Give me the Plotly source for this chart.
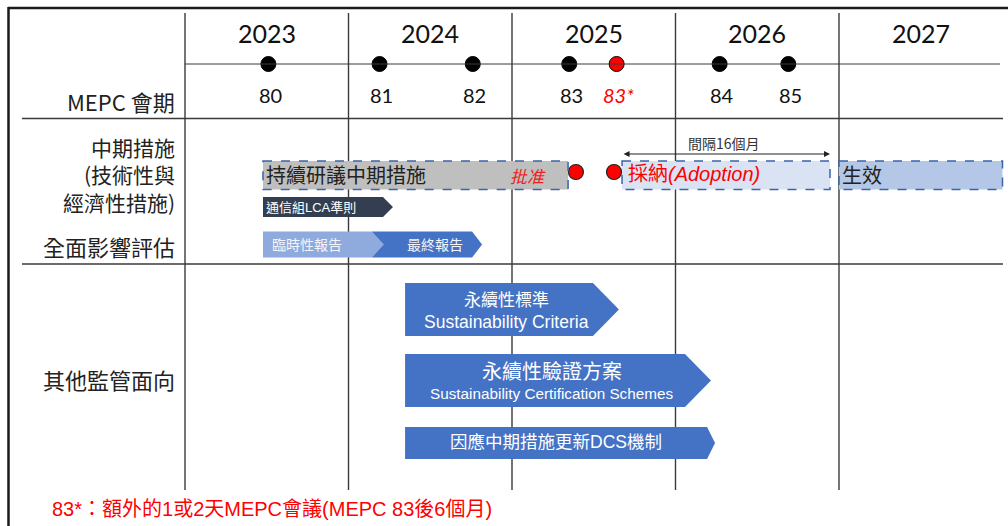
import plotly.graph_objects as go

# ---------------- data ----------------
year_labels = ["2023", "2024", "2025", "2026", "2027"]
year_starts = [2023, 2024, 2025, 2026, 2027]

session_labels = ["80", "81", "82", "83", "83*", "84", "85"]
session_times = [2023.51, 2024.19, 2024.76, 2025.35, 2025.64, 2026.27, 2026.69]
session_extra = [False, False, False, False, True, False, False]

# mid-term measures boxes: (label, start, end)
box_labels = ["持續研議中期措施", "採納(Adoption)", "生效"]
box_starts = [2023.477, 2025.673, 2027.0]
box_ends = [2025.343, 2026.945, 2028.0]
approve_label = "批准"
approval_points = [2025.391, 2025.624]
interval_label = "間隔16個月"

# chevrons (label, start, end of tip)
lca_label = "通信組LCA準則"
lca_span = [2023.477, 2024.272]
impact_labels = ["臨時性報告", "最終報告"]
impact_starts = [2023.477, 2024.144]
impact_ends = [2024.217, 2024.817]

other_labels_cn = ["永續性標準", "永續性驗證方案", "因應中期措施更新DCS機制"]
other_labels_en = ["Sustainability Criteria", "Sustainability Certification Schemes", ""]
other_starts = [2024.346, 2024.346, 2024.346]
other_ends = [2025.654, 2026.217, 2026.242]

row_labels = ["MEPC 會期", "中期措施<br>(技術性與<br>經濟性措施)", "全面影響評估", "其他監管面向"]
footnote = "83*：額外的1或2天MEPC會議(MEPC 83後6個月)"

# ---------------- layout helpers ----------------
W, H = 1008, 526
PX0, PPY = 185.0, 163.5          # pixel of 2023 and pixels per year
XR = [2023 - PX0 / PPY, 2023 + (W - PX0) / PPY]
def px(p):  # pixel width -> years (offsets only)
    return p / PPY

CJK = "Noto Sans CJK TC, Noto Sans, sans-serif"
LAT = "Lato, Noto Sans CJK TC, sans-serif"
ARIAL = "Liberation Sans, Noto Sans CJK TC, sans-serif"
GRID = "#3a3a3a"
BLUE = "#4472C4"
DASH = "#3D63A8"

fig = go.Figure()
shapes = []
ann = []

# frame
shapes.append(dict(type="line", xref="paper", yref="y", x0=8 / W, x1=1.0, y0=8, y1=8,
                   line=dict(color="#1a1a1a", width=2.5)))
shapes.append(dict(type="line", xref="paper", yref="y", x0=8.5 / W, x1=8.5 / W, y0=7, y1=H,
                   line=dict(color="#1a1a1a", width=2.5)))
# section lines
for yy in [118.5, 264]:
    shapes.append(dict(type="line", xref="paper", yref="y", x0=22 / W, x1=1003 / W, y0=yy, y1=yy,
                       line=dict(color=GRID, width=1.5)))
# timeline axis
shapes.append(dict(type="line", xref="x", yref="y", x0=year_starts[0], x1=XR[0] + 1000 / PPY,
                   y0=64, y1=64, line=dict(color=GRID, width=1)))
# year grid lines
for ys in year_starts:
    shapes.append(dict(type="line", xref="x", yref="y", x0=ys, x1=ys, y0=13, y1=490,
                       line=dict(color=GRID, width=1.4), layer="below"))
# year labels
for lab, ys in zip(year_labels, year_starts):
    ann.append(dict(x=ys + 0.5, y=33, text=lab, showarrow=False,
                    font=dict(family=LAT, size=25, color="#111")))

# session dots
fig.add_trace(go.Scatter(
    x=session_times, y=[64] * len(session_times), mode="markers",
    marker=dict(size=15, color=["#FF0000" if e else "#000" for e in session_extra],
                line=dict(color="#000", width=1)),
    hoverinfo="skip", showlegend=False))
for lab, t, e in zip(session_labels, session_times, session_extra):
    ann.append(dict(x=t + px(2), y=95, text=("<i>%s</i>" % lab) if e else lab, showarrow=False,
                    font=dict(family=LAT, size=20, color="#FF0000" if e else "#111")))

# row labels (right aligned)
row_y = [101, 174, 246, 379]
row_size = [22, 21, 22, 22]
for lab, yy, fs in zip(row_labels, row_y, row_size):
    ann.append(dict(xref="paper", x=177 / W, y=yy, text=lab, showarrow=False, xanchor="right",
                    align="right", font=dict(family=CJK, size=fs, color="#222")))

# dashed boxes
box_fill = ["#BFBFBF", "#DAE3F3", "#B4C7E7"]
for s, e, f in zip(box_starts, box_ends, box_fill):
    shapes.append(dict(type="rect", xref="x", yref="y", x0=s, x1=e, y0=161, y1=189.5,
                       fillcolor=f, line=dict(color=DASH, width=1.5, dash="dash")))
ann.append(dict(x=box_starts[0] + px(1), y=174, text=box_labels[0], showarrow=False, xanchor="left",
                font=dict(family=CJK, size=20, color="#222")))
ann.append(dict(x=box_ends[0] - px(40), y=175, text="<i>%s</i>" % approve_label, showarrow=False,
                font=dict(family=CJK, size=17, color="#F02020")))
ann.append(dict(x=box_starts[1] + px(4), y=174,
                text="採納<i>(Adoption)</i>", showarrow=False, xanchor="left",
                font=dict(family=ARIAL, size=20, color="#FF0000")))
ann.append(dict(x=box_starts[2] + px(1), y=174, text=box_labels[2], showarrow=False, xanchor="left",
                font=dict(family=CJK, size=20, color="#222")))
# approval red circles
fig.add_trace(go.Scatter(
    x=approval_points, y=[172, 172], mode="markers",
    marker=dict(size=15, color="#FF0000", line=dict(color="#222", width=1.2)),
    hoverinfo="skip", showlegend=False))
# interval arrow
ann.append(dict(x=box_ends[1], y=154, ax=box_starts[1], ay=154, axref="x", ayref="y",
                xref="x", yref="y", text="", showarrow=True, arrowhead=2, arrowside="end+start",
                arrowsize=1, arrowwidth=1.2, arrowcolor="#222"))
ann.append(dict(x=(box_starts[1] + box_ends[1]) / 2 - px(2), y=143, text=interval_label, showarrow=False,
                font=dict(family=CJK, size=14, color="#333")))


def chevron(s, e, y0, y1, depth, color, notch=0.0):
    ym = (y0 + y1) / 2
    xs = [s, e - depth, e, e - depth, s, s + notch, s]
    ys = [y0, y0, ym, y1, y1, ym, y0]
    fig.add_trace(go.Scatter(x=xs, y=ys, mode="lines", fill="toself", fillcolor=color,
                             line=dict(color=color, width=0), hoverinfo="skip", showlegend=False))


# LCA chevron
chevron(lca_span[0], lca_span[1], 197, 217, px(10), "#333F50")
ann.append(dict(x=lca_span[0] + px(1), y=207, text=lca_label, showarrow=False, xanchor="left",
                font=dict(family=ARIAL, size=13, color="#fff")))
# impact assessment chevrons (dark first, light on top)
chevron(impact_starts[1], impact_ends[1], 231.5, 257.5, px(10), BLUE)
chevron(impact_starts[0], impact_ends[0], 231.5, 257.5, px(12), "#8FAADC")
ann.append(dict(x=impact_starts[0] + px(44), y=245, text=impact_labels[0], showarrow=False,
                font=dict(family=ARIAL, size=14, color="#F2F5FB")))
ann.append(dict(x=impact_starts[1] + px(63), y=245, text=impact_labels[1], showarrow=False,
                font=dict(family=ARIAL, size=14, color="#F2F5FB")))

# other regulatory chevrons
other_rows = [(283, 336), (354, 407), (427, 459)]
other_depth = [26, 26, 8]
for s, e, (y0, y1), d in zip(other_starts, other_ends, other_rows, other_depth):
    chevron(s, e, y0, y1, px(d), BLUE)
ann.append(dict(x=other_starts[0] + px(101), y=300, text=other_labels_cn[0], showarrow=False,
                font=dict(family=ARIAL, size=17, color="#fff")))
ann.append(dict(x=other_starts[0] + px(101), y=322, text=other_labels_en[0], showarrow=False,
                font=dict(family=ARIAL, size=17.5, color="#fff")))
ann.append(dict(x=other_starts[1] + px(147), y=372, text=other_labels_cn[1], showarrow=False,
                font=dict(family=ARIAL, size=20, color="#fff")))
ann.append(dict(x=other_starts[1] + px(147), y=393, text=other_labels_en[1], showarrow=False,
                font=dict(family=ARIAL, size=15.3, color="#fff")))
ann.append(dict(x=other_starts[2] + px(151), y=442, text=other_labels_cn[2], showarrow=False,
                font=dict(family=ARIAL, size=17.5, color="#fff")))

# footnote
ann.append(dict(xref="paper", x=50 / W, y=509, text=footnote, showarrow=False, xanchor="left",
                font=dict(family=ARIAL, size=20, color="#FF0000")))

fig.update_layout(
    width=W, height=H, margin=dict(l=0, r=0, t=0, b=0),
    paper_bgcolor="#fff", plot_bgcolor="#fff",
    xaxis=dict(range=XR, visible=False, fixedrange=True),
    yaxis=dict(range=[H, 0], visible=False, fixedrange=True),
    shapes=shapes, annotations=ann, showlegend=False,
)
fig.write_html("out.html", config={"displayModeBar": False},
               post_script="document.body.style.margin='0';document.body.style.overflow='hidden';")
